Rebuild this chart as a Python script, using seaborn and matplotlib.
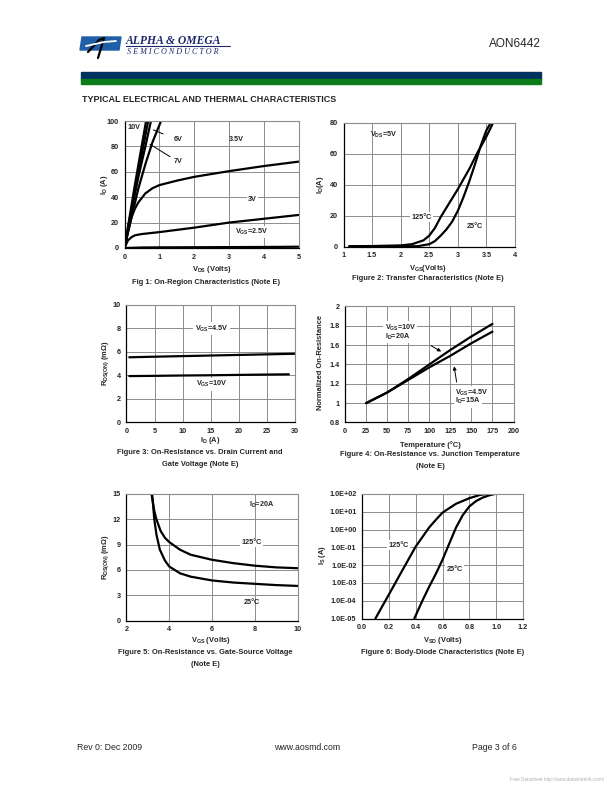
import pandas as pd
import matplotlib
matplotlib.use("Agg")
import matplotlib.pyplot as plt
import seaborn as sns
from matplotlib.patches import Polygon, Rectangle
from matplotlib.lines import Line2D
from matplotlib.ticker import NullLocator

# ---------------- data ----------------
# Fig 1: On-region characteristics, ID vs VDS for several VGS
vds_10v = [0, 0.3, 0.62]
id_10v = [0, 50, 100]
vds_7v = [0, 0.2, 0.4, 0.68]
id_7v = [0, 31, 60, 100]
vds_6v = [0, 0.2, 0.4, 0.6, 0.76]
id_6v = [0, 29, 56, 80, 100]
vds_45v = [0, 0.2, 0.4, 0.6, 0.8, 1.05]
id_45v = [0, 24, 47, 66, 83, 100]
vds_35v = [0, 0.1, 0.2, 0.3, 0.4, 0.6, 0.8, 1, 1.5, 2, 3, 4, 5]
id_35v = [0, 13, 24, 31, 36, 43, 47, 49.5, 53, 56, 60.5, 64.5, 68]
vds_3v = [0, 0.1, 0.2, 0.3, 0.5, 1, 2, 3, 4, 5]
id_3v = [0, 6, 8.5, 10, 11, 12.5, 16, 20, 23, 26]
vds_25v = [0, 0.5, 1, 2, 3, 4, 5]
id_25v = [0, 0.4, 0.5, 0.6, 0.7, 0.8, 1.0]

# Fig 2: transfer characteristics
vgs_125c = [1.1, 1.5, 2.0, 2.2, 2.4, 2.5, 2.6, 2.7, 2.8, 3.0, 3.2, 3.35, 3.5, 3.62]
id_125c = [0.2, 0.3, 0.7, 1.5, 4, 7, 12, 19, 25, 37, 50, 61, 71, 80]
vgs_25c = [1.1, 2.0, 2.3, 2.5, 2.6, 2.7, 2.8, 2.9, 3.0, 3.1, 3.2, 3.3, 3.4, 3.5, 3.58]
id_25c = [0.1, 0.1, 0.2, 1.5, 3.5, 7, 11, 16, 23, 32, 42, 53, 65, 75, 80]

# Fig 3: RDS(on) vs drain current
id_vgs45 = [0.5, 5, 10, 15, 20, 25, 30]
rds_vgs45 = [5.55, 5.6, 5.65, 5.7, 5.75, 5.8, 5.85]
id_vgs10 = [0.5, 5, 10, 15, 20, 25, 29]
rds_vgs10 = [3.95, 3.97, 4.0, 4.02, 4.05, 4.08, 4.1]

# Fig 4: normalized RDS(on) vs junction temperature
temp_c = [25, 50, 75, 100, 125, 150, 175]
norm_10v = [1.0, 1.11, 1.25, 1.40, 1.55, 1.69, 1.82]
norm_45v = [1.0, 1.11, 1.24, 1.37, 1.49, 1.62, 1.74]

# Fig 5: RDS(on) vs gate-source voltage
vgs5_125c = [3.17, 3.3, 3.4, 3.6, 3.8, 4.0, 4.5, 5, 6, 7, 8, 9, 10]
rds5_125c = [15, 13, 12, 10.6, 9.8, 9.3, 8.4, 7.8, 7.2, 6.8, 6.5, 6.3, 6.2]
vgs5_25c = [3.2, 3.3, 3.4, 3.56, 3.8, 4.0, 4.5, 5, 6, 7, 8, 9, 10]
rds5_25c = [15, 12, 10.2, 8.4, 7.1, 6.4, 5.6, 5.2, 4.75, 4.5, 4.35, 4.2, 4.1]

# Fig 6: body diode, IS vs VSD (log scale)
vsd_125c = [0.1, 0.2, 0.3, 0.4, 0.5, 0.55, 0.6, 0.7, 0.8, 0.88, 0.93]
is_125c = [1e-5, 2.2e-4, 5e-3, 1.1e-1, 1.3, 3.5, 9, 28, 58, 89, 100]
vsd_25c = [0.39, 0.45, 0.5, 0.55, 0.6, 0.65, 0.7, 0.75, 0.8, 0.85, 0.9, 0.95, 0.99]
is_25c = [1e-5, 1e-4, 6e-4, 3.2e-3, 2e-2, 0.16, 1.26, 6.3, 20, 40, 63, 85, 100]

# tick labels
fig1_xt = [0, 1, 2, 3, 4, 5]
fig1_yt = [0, 20, 40, 60, 80, 100]
fig2_xt = [1, 1.5, 2, 2.5, 3, 3.5, 4]
fig2_xl = ["1", "1.5", "2", "2.5", "3", "3.5", "4"]
fig2_yt = [0, 20, 40, 60, 80]
fig3_xt = [0, 5, 10, 15, 20, 25, 30]
fig3_yt = [0, 2, 4, 6, 8, 10]
fig4_xt = [0, 25, 50, 75, 100, 125, 150, 175, 200]
fig4_yt = [0.8, 1.0, 1.2, 1.4, 1.6, 1.8, 2.0]
fig4_yl = ["0.8", "1", "1.2", "1.4", "1.6", "1.8", "2"]
fig5_xt = [2, 4, 6, 8, 10]
fig5_yt = [0, 3, 6, 9, 12, 15]
fig6_xt = [0, 0.2, 0.4, 0.6, 0.8, 1.0, 1.2]
fig6_xl = ["0.0", "0.2", "0.4", "0.6", "0.8", "1.0", "1.2"]
fig6_yt = [1e-5, 1e-4, 1e-3, 1e-2, 1e-1, 1e0, 1e1, 1e2]
fig6_yl = ["1.0E-05", "1.0E-04", "1.0E-03", "1.0E-02", "1.0E-01",
           "1.0E+00", "1.0E+01", "1.0E+02"]

# ---------------- page setup ----------------
sns.set_style("white")
plt.rcParams["font.family"] = ["Liberation Sans", "DejaVu Sans"]
plt.rcParams["mathtext.default"] = "regular"

W, H = 612, 792
fig = plt.figure(figsize=(W / 100, H / 100), dpi=100)
fig.patch.set_facecolor("white")

CAP = 5.4   # caption / axis label size
TICK = 5.2


def fx(x):
    return x / W


def fy(y):
    return 1 - y / H


def add_axes_px(l, t, r, b):
    return fig.add_axes([l / W, 1 - b / H, (r - l) / W, (b - t) / H])


def ptext(x, y, s, **kw):
    kw.setdefault("fontsize", CAP)
    kw.setdefault("fontweight", "bold")
    kw.setdefault("ha", "center")
    kw.setdefault("va", "center")
    return fig.text(fx(x), fy(y), s, **kw)


def draw_curves(ax, curves):
    frames = [pd.DataFrame({"x": xs, "y": ys, "curve": name}) for name, (xs, ys) in curves.items()]
    df = pd.concat(frames, ignore_index=True)
    sns.lineplot(data=df, x="x", y="y", hue="curve", palette=["black"] * len(curves),
                 legend=False, estimator=None, sort=False, linewidth=1.6, ax=ax)
    ax.set_xlabel("")
    ax.set_ylabel("")


def style_axes(ax, xlim, ylim, xt, xl, yt, yl):
    ax.set_xlim(*xlim)
    ax.set_ylim(*ylim)
    ax.set_xticks(xt, labels=xl, fontsize=TICK, fontweight="bold")
    ax.set_yticks(yt, labels=yl, fontsize=TICK, fontweight="bold")
    ax.xaxis.set_minor_locator(NullLocator())
    ax.yaxis.set_minor_locator(NullLocator())
    ax.grid(True, color="#8c8c8c", linewidth=0.7)
    ax.tick_params(length=0, pad=4)
    for side in ["top", "right"]:
        ax.spines[side].set_color("#8c8c8c")
        ax.spines[side].set_linewidth(0.8)
    for side in ["left", "bottom"]:
        ax.spines[side].set_color("black")
        ax.spines[side].set_linewidth(0.9)
    ax.set_facecolor("white")


def note(ax, x, y, s, ha="center", box=False):
    kw = dict(fontsize=TICK, fontweight="bold", ha=ha, va="center")
    if box:
        kw["bbox"] = dict(facecolor="white", edgecolor="none", pad=1.0)
    ax.text(x, y, s, **kw)


# ---------------- header ----------------
fig.patches.append(Rectangle((fx(81), fy(79.5)), fx(541) - fx(81), fy(72) - fy(79.5),
                             transform=fig.transFigure, color="#00325f"))
fig.patches.append(Rectangle((fx(81), fy(84)), fx(541) - fx(81), fy(79.5) - fy(84),
                             transform=fig.transFigure, color="#0a7d1a"))
# logo
fig.patches.append(Polygon([(fx(82), fy(37)), (fx(121), fy(37)), (fx(119), fy(50)), (fx(80), fy(50))],
                           closed=True, transform=fig.transFigure, color="#1f5fa8"))
fig.lines.append(Line2D([fx(88), fx(99), fx(104), fx(101), fx(98)], [fy(52), fy(40), fy(38), fy(48), fy(58)],
                        transform=fig.transFigure, color="black", linewidth=1.6))
fig.lines.append(Line2D([fx(86), fx(104), fx(116)], [fy(46), fy(42), fy(41)],
                        transform=fig.transFigure, color="white", linewidth=1.3))
ptext(126, 41, "ALPHA & OMEGA", fontsize=8.4, ha="left", family="Liberation Serif",
      style="italic", color="#1b2a6b")
fig.lines.append(Line2D([fx(126), fx(230)], [fy(46), fy(46)], transform=fig.transFigure,
                        color="#1b2a6b", linewidth=0.8))
ptext(127, 51.5, "S E M I C O N D U C T O R", fontsize=5.9, ha="left", fontweight="normal",
      family="Liberation Serif", style="italic", color="#1b2a6b")
ptext(541, 44, "AON6442", fontsize=8.5, ha="right", fontweight="normal")
ptext(82, 100, "TYPICAL ELECTRICAL AND THERMAL CHARACTERISTICS", fontsize=6.5, ha="left")

# ---------------- Fig 1 ----------------
ax1 = add_axes_px(124.5, 121, 298.5, 248)
draw_curves(ax1, {"10V": (vds_10v, id_10v), "7V": (vds_7v, id_7v), "6V": (vds_6v, id_6v),
                  "4.5V": (vds_45v, id_45v), "3.5V": (vds_35v, id_35v), "3V": (vds_3v, id_3v),
                  "2.5V": (vds_25v, id_25v)})
style_axes(ax1, (0, 5), (0, 100), fig1_xt, [str(v) for v in fig1_xt], fig1_yt, [str(v) for v in fig1_yt])
note(ax1, 0.1, 95, "10V", ha="left")
note(ax1, 1.53, 85.5, "6V")
note(ax1, 3.2, 85.5, "3.5V")
note(ax1, 1.55, 68, "7V")
note(ax1, 3.68, 38.4, "3V", box=True)
note(ax1, 3.65, 12.6, "V$_{GS}$=2.5V", box=True)
ax1.plot([0.83, 1.11], [93, 89.8], color="black", linewidth=0.7)
ax1.plot([0.73, 1.31], [81.7, 71.9], color="black", linewidth=0.7)
ptext(104, 185, "I$_D$ (A)", rotation=90)
ptext(212, 270, "V$_{DS}$ (Volts)")
ptext(206, 282, "Fig 1: On-Region Characteristics (Note E)")

# ---------------- Fig 2 ----------------
ax2 = add_axes_px(343.5, 122.5, 515, 246.5)
draw_curves(ax2, {"125C": (vgs_125c, id_125c), "25C": (vgs_25c, id_25c)})
style_axes(ax2, (1, 4), (0, 80), fig2_xt, fig2_xl, fig2_yt, [str(v) for v in fig2_yt])
note(ax2, 1.7, 72, "V$_{DS}$=5V")
note(ax2, 2.37, 19, "125°C", box=True)
note(ax2, 3.3, 13, "25°C", box=True)
ptext(321, 185, "I$_D$(A)", rotation=90)
ptext(428, 269, "V$_{GS}$(Volts)")
ptext(428, 279, "Figure 2: Transfer Characteristics (Note E)")

# ---------------- Fig 3 ----------------
ax3 = add_axes_px(126.5, 305, 294.5, 422.5)
draw_curves(ax3, {"4.5V": (id_vgs45, rds_vgs45), "10V": (id_vgs10, rds_vgs10)})
style_axes(ax3, (0, 30), (0, 10), fig3_xt, [str(v) for v in fig3_xt], fig3_yt, [str(v) for v in fig3_yt])
note(ax3, 15.2, 8.0, "V$_{GS}$=4.5V", box=True)
note(ax3, 15.2, 3.25, "V$_{GS}$=10V", box=True)
ptext(106, 363, "R$_{DS(ON)}$ (m$\\Omega$)", rotation=90)
ptext(210, 441, "I$_D$ (A)")
ptext(200, 452, "Figure 3: On-Resistance vs. Drain Current and")
ptext(200, 464, "Gate Voltage (Note E)")

# ---------------- Fig 4 ----------------
ax4 = add_axes_px(345, 306.5, 513.5, 422.5)
draw_curves(ax4, {"10V": (temp_c, norm_10v), "4.5V": (temp_c, norm_45v)})
style_axes(ax4, (0, 200), (0.8, 2.0), fig4_xt, [str(v) for v in fig4_xt], fig4_yt, fig4_yl)
note(ax4, 47, 1.78, "V$_{GS}$=10V", ha="left", box=True)
note(ax4, 47, 1.69, "I$_D$=20A", ha="left", box=True)
note(ax4, 131, 1.11, "V$_{GS}$=4.5V", ha="left", box=True)
note(ax4, 131, 1.02, "I$_D$=15A", ha="left", box=True)
ax4.annotate("", xy=(117, 1.52), xytext=(99, 1.61),
             arrowprops=dict(arrowstyle="-|>", color="black", lw=0.7, mutation_scale=5))
ax4.annotate("", xy=(129, 1.41), xytext=(133, 1.19),
             arrowprops=dict(arrowstyle="-|>", color="black", lw=0.7, mutation_scale=5))
ptext(321, 363, "Normalized On-Resistance", rotation=90)
ptext(430, 445, "Temperature (°C)")
ptext(430, 455, "Figure 4: On-Resistance vs. Junction Temperature")
ptext(430, 466.5, "(Note E)")

# ---------------- Fig 5 ----------------
ax5 = add_axes_px(126.5, 494, 297.5, 620.5)
draw_curves(ax5, {"125C": (vgs5_125c, rds5_125c), "25C": (vgs5_25c, rds5_25c)})
style_axes(ax5, (2, 10), (0, 15), fig5_xt, [str(v) for v in fig5_xt], fig5_yt, [str(v) for v in fig5_yt])
note(ax5, 8.3, 13.7, "I$_D$=20A")
note(ax5, 7.85, 9.26, "125°C", box=True)
note(ax5, 7.85, 2.1, "25°C")
ptext(106, 557, "R$_{DS(ON)}$ (m$\\Omega$)", rotation=90)
ptext(211, 641, "V$_{GS}$ (Volts)")
ptext(205, 653, "Figure 5: On-Resistance vs. Gate-Source Voltage")
ptext(205, 665, "(Note E)")

# ---------------- Fig 6 ----------------
ax6 = add_axes_px(362, 494, 523, 618.5)
draw_curves(ax6, {"125C": (vsd_125c, is_125c), "25C": (vsd_25c, is_25c)})
ax6.set_yscale("log")
style_axes(ax6, (0, 1.2), (1e-5, 1e2), fig6_xt, fig6_xl, fig6_yt, fig6_yl)
note(ax6, 0.275, 1.3e-1, "125°C", box=True)
note(ax6, 0.69, 6e-3, "25°C", box=True)
ptext(322, 555, "I$_S$ (A)", rotation=90)
ptext(443, 641, "V$_{SD}$ (Volts)")
ptext(443, 653, "Figure 6: Body-Diode Characteristics (Note E)")

# ---------------- footer ----------------
ptext(77, 748, "Rev 0: Dec 2009", fontsize=6.3, ha="left", fontweight="normal")
ptext(307, 748, "www.aosmd.com", fontsize=6.3, fontweight="normal")
ptext(472, 748, "Page 3 of 6", fontsize=6.3, ha="left", fontweight="normal")
ptext(604, 779, "Free Datasheet http://www.datasheet4u.com/", fontsize=3.3, ha="right",
      fontweight="normal", color="#b0b0b0")

fig.savefig("out.png", dpi=100)
plt.close(fig)
